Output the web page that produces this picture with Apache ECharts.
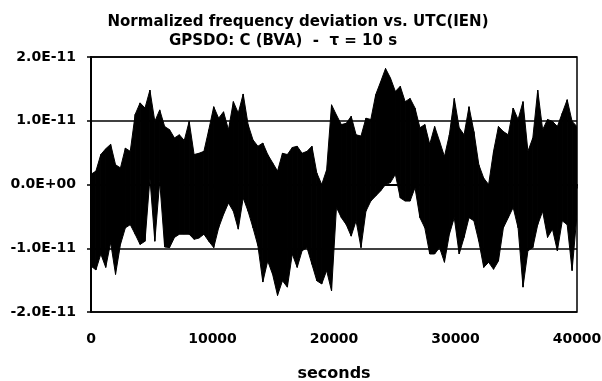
<!DOCTYPE html>
<html>
<head>
<meta charset="utf-8">
<script src="https://cdn.jsdelivr.net/npm/echarts@6/dist/echarts.min.js"></script>
<style>
html,body{margin:0;padding:0;background:#fff;}
#chart{width:602px;height:381px;}
</style>
</head>
<body>
<div id="chart"></div>
<script>
// Upper / lower envelope of the normalized frequency deviation, units of 1e-12,
// one pair per 400 s block (0 s ... 40000 s)
const devHi = [
  1.6, 2.1, 4.7, 5.6, 6.3, 3.1, 2.6, 5.7, 5.2, 11.0,
  12.8, 12.0, 14.8, 9.9, 11.7, 9.1, 8.6, 7.3, 7.8, 6.9,
  9.9, 4.7, 4.9, 5.2, 8.6, 12.2, 10.4, 11.4, 8.6, 13.0,
  11.2, 14.2, 9.4, 7.0, 6.0, 6.5, 4.7, 3.4, 2.1, 4.9,
  4.7, 5.8, 6.0, 4.9, 5.2, 6.0, 1.8, 0.0, 2.3, 12.5,
  10.9, 9.4, 9.6, 10.7, 7.8, 7.6, 10.4, 10.2, 14.1, 16.1,
  18.2, 16.7, 14.6, 15.4, 13.0, 13.5, 12.0, 8.9, 9.4, 6.3,
  9.1, 6.8, 4.4, 7.8, 13.5, 8.9, 7.8, 12.2, 8.3, 3.1,
  1.0, 0.0, 5.2, 9.1, 8.3, 7.8, 12.0, 10.2, 13.0, 5.2,
  7.3, 14.8, 8.6, 10.2, 9.9, 9.1, 11.2, 13.3, 9.9, 9.1
];
const devLo = [
  -12.8, -13.4, -10.9, -13.0, -9.1, -14.1, -9.4, -6.8, -6.3, -7.8,
  -9.4, -8.9, 1.0, -8.9, 0.5, -9.8, -9.9, -8.3, -7.8, -7.8,
  -7.8, -8.6, -8.4, -7.8, -8.9, -9.9, -6.8, -4.7, -2.9, -4.2,
  -7.0, -2.1, -4.2, -6.8, -9.6, -15.3, -12.0, -14.1, -17.4, -15.1,
  -16.1, -10.9, -13.0, -10.4, -9.9, -12.5, -15.1, -15.6, -13.5, -16.7,
  -3.6, -5.2, -6.3, -8.1, -5.7, -9.9, -4.2, -2.6, -1.8, -1.0,
  0.0, 0.3, 1.6, -2.1, -2.6, -2.6, -0.5, -5.2, -6.8, -10.9,
  -10.9, -9.9, -12.2, -7.8, -5.2, -10.9, -8.3, -5.2, -5.7, -8.9,
  -13.0, -12.2, -13.3, -12.0, -6.8, -5.2, -3.6, -6.8, -16.1, -10.4,
  -9.9, -6.3, -4.2, -8.3, -7.0, -10.4, -5.7, -6.3, -13.5, -4.7
];
const xTickLabels = ['0', '10000', '20000', '30000', '40000'];
const yTickLabels = ['-2.0E-11', '-1.0E-11', '0.0E+00', '1.0E-11', '2.0E-11'];
const titleLines = ['Normalized frequency deviation vs. UTC(IEN)', 'GPSDO: C (BVA)  -  \u03c4 = 10 s'];
const xName = 'seconds';

const spanSeconds = 40000;
const times = devHi.map((_, i) => i * spanSeconds / (devHi.length - 1));
const bandData = times.map((t, i) => [t, devLo[i], devHi[i]]);

const FONT = 'DejaVu Sans';
const chart = echarts.init(document.getElementById('chart'), null, {renderer: 'canvas'});
chart.setOption({
  animation: false,
  backgroundColor: '#fff',
  graphic: [
    {type: 'text', x: 298, y: 22, style: {text: titleLines[0], fontFamily: FONT, fontWeight: 'bold', fontSize: 15, fill: '#000', align: 'center', verticalAlign: 'middle'}},
    {type: 'text', x: 283, y: 41, style: {text: titleLines[1], fontFamily: FONT, fontWeight: 'bold', fontSize: 15, fill: '#000', align: 'center', verticalAlign: 'middle'}}
  ],
  grid: {left: 91, right: 25, top: 57, bottom: 69, containLabel: false, outerBoundsMode: 'none',
    show: true, borderColor: '#000', borderWidth: 1.5, backgroundColor: 'transparent'},
  xAxis: {
    type: 'value', min: 0, max: 40000, interval: 10000,
    name: xName, nameLocation: 'middle', nameGap: 54,
    nameTextStyle: {fontFamily: FONT, fontWeight: 'bold', fontSize: 16, color: '#000'},
    axisLine: {show: true, lineStyle: {color: '#000', width: 2}},
    axisTick: {show: true, length: 4, lineStyle: {color: '#000', width: 1.5}},
    minorTick: {show: true, splitNumber: 5, length: 3, lineStyle: {color: '#000', width: 1}},
    splitLine: {show: false},
    axisLabel: {margin: 20, fontFamily: FONT, fontWeight: 'bold', fontSize: 14, color: '#000',
      formatter: (v) => xTickLabels[Math.round(v / 10000)]}
  },
  yAxis: {
    type: 'value', min: -20, max: 20, interval: 10,
    axisLine: {show: true, lineStyle: {color: '#000', width: 2}},
    axisTick: {show: true, length: 4, lineStyle: {color: '#000', width: 1.5}},
    splitLine: {show: true, lineStyle: {color: '#000', width: 1.5}},
    axisLabel: {margin: 15, fontFamily: FONT, fontWeight: 'bold', fontSize: 14, color: '#000',
      formatter: (v) => yTickLabels[Math.round((v + 20) / 10)]}
  },
  series: [
    {
      type: 'custom', name: 'deviation', coordinateSystem: 'cartesian2d',
      data: bandData, encode: {x: 0, y: [1, 2]}, silent: true, clip: true,
      renderItem: (params, api) => {
        const i = params.dataIndex;
        if (i >= bandData.length - 1) return null;
        const t0 = api.value(0), lo0 = api.value(1), hi0 = api.value(2);
        const n = bandData[i + 1];
        const pts = [
          api.coord([t0, hi0]), api.coord([n[0], n[2]]),
          api.coord([n[0], n[1]]), api.coord([t0, lo0])
        ];
        return {type: 'polygon', shape: {points: pts},
          style: {fill: '#000', stroke: '#000', lineWidth: 1, lineJoin: 'miter'}};
      }
    }
  ]
});
</script>
</body>
</html>
